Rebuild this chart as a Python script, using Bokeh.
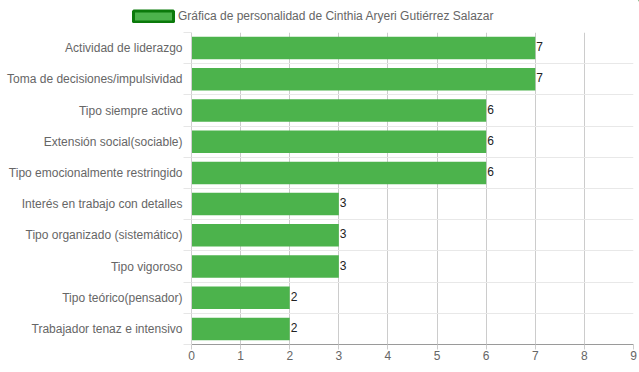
from bokeh.plotting import figure
from bokeh.layouts import column
from bokeh.models import Range1d, FixedTicker, Legend, LegendItem, ColumnDataSource
from bokeh.core.properties import value
from bokeh.embed import file_html
from bokeh.resources import INLINE

categories = [
    "Actividad de liderazgo",
    "Toma de decisiones/impulsividad",
    "Tipo siempre activo",
    "Extensión social(sociable)",
    "Tipo emocionalmente restringido",
    "Interés en trabajo con detalles",
    "Tipo organizado (sistemático)",
    "Tipo vigoroso",
    "Tipo teórico(pensador)",
    "Trabajador tenaz e intensivo",
]
scores = [7, 7, 6, 6, 6, 3, 3, 3, 2, 2]
series_name = "Gráfica de personalidad de Cinthia Aryeri Gutiérrez Salazar"
x_ticks = [0, 1, 2, 3, 4, 5, 6, 7, 8, 9]

n = len(categories)
pos = list(range(n))
FONT = "Liberation Sans"
BAR = "#4cb34c"
EDGE = "#0b7a0b"

src = ColumnDataSource(dict(y=pos, x=scores, lbl=[str(s) for s in scores]))

# ---- legend strip on top ----
top = figure(width=639, height=32, min_border=0,
             x_range=Range1d(0, 1), y_range=Range1d(0, 1),
             output_backend="svg", toolbar_location=None)
top.frame_align = False
top.axis.visible = False
top.grid.visible = False
top.outline_line_color = None
# legend key renderer: a single bar kept outside the visible range
dummy = top.hbar(y=[5], right=[6], left=5, height=0.5,
                 fill_color=BAR, line_color=EDGE, line_width=3)
legend = Legend(items=[LegendItem(label=series_name, renderers=[dummy])],
                location=(128, 9), orientation="horizontal",
                padding=0, margin=0, spacing=0,
                glyph_width=50, glyph_height=14, label_height=14,
                label_standoff=0, border_line_color=None,
                background_fill_alpha=0,
                label_text_font=FONT, label_text_font_size="12px",
                label_text_color="#666666")
top.add_layout(legend, "center")

# ---- main chart ----
p = figure(frame_width=442, frame_height=312,
           min_border_left=191, min_border_right=6,
           min_border_top=0, min_border_bottom=28,
           x_range=Range1d(0, 9), y_range=Range1d(n - 0.5, -0.5),
           output_backend="svg", toolbar_location=None)
p.frame_align = False
p.outline_line_color = None
p.background_fill_color = "white"

p.hbar(y="y", right="x", left=0, height=0.72, source=src,
       fill_color=BAR, line_color=None)
p.text(x="x", y="y", text="lbl", source=src, x_offset=1, y_offset=-1.5,
       text_font=value(FONT), text_font_size="12px", text_color="#222",
       text_baseline="middle", text_align="left")

# x axis
p.xaxis.ticker = FixedTicker(ticks=x_ticks)
p.xaxis.axis_line_color = "#9a9a9a"
p.xaxis.major_tick_line_color = "#cccccc"
p.xaxis.major_tick_out = 5
p.xaxis.major_tick_in = 0
p.xaxis.minor_tick_line_color = None
p.xaxis.major_label_standoff = 1
p.xaxis.major_label_text_font = FONT
p.xaxis.major_label_text_font_size = "12px"
p.xaxis.major_label_text_color = "#666666"

# y axis
boundaries = [i - 0.5 for i in range(n + 1)]
p.yaxis.ticker = FixedTicker(ticks=pos, minor_ticks=boundaries)
p.yaxis.major_label_overrides = {i: c for i, c in enumerate(categories)}
p.yaxis.axis_line_color = "#d0d0d0"
p.yaxis.major_tick_line_color = None
p.yaxis.minor_tick_line_color = "#e6e6e6"
p.yaxis.minor_tick_out = 8
p.yaxis.minor_tick_in = 0
p.yaxis.major_label_standoff = 1
p.yaxis.major_label_text_font = FONT
p.yaxis.major_label_text_font_size = "12px"
p.yaxis.major_label_text_color = "#666666"

p.xgrid.ticker = FixedTicker(ticks=x_ticks)
p.xgrid.grid_line_color = "#cccccc"
p.ygrid.ticker = FixedTicker(ticks=boundaries[:-1])
p.ygrid.grid_line_color = "#e8e8e8"

layout = column(top, p, spacing=0)
open("out.html", "w").write(file_html(layout, INLINE))
